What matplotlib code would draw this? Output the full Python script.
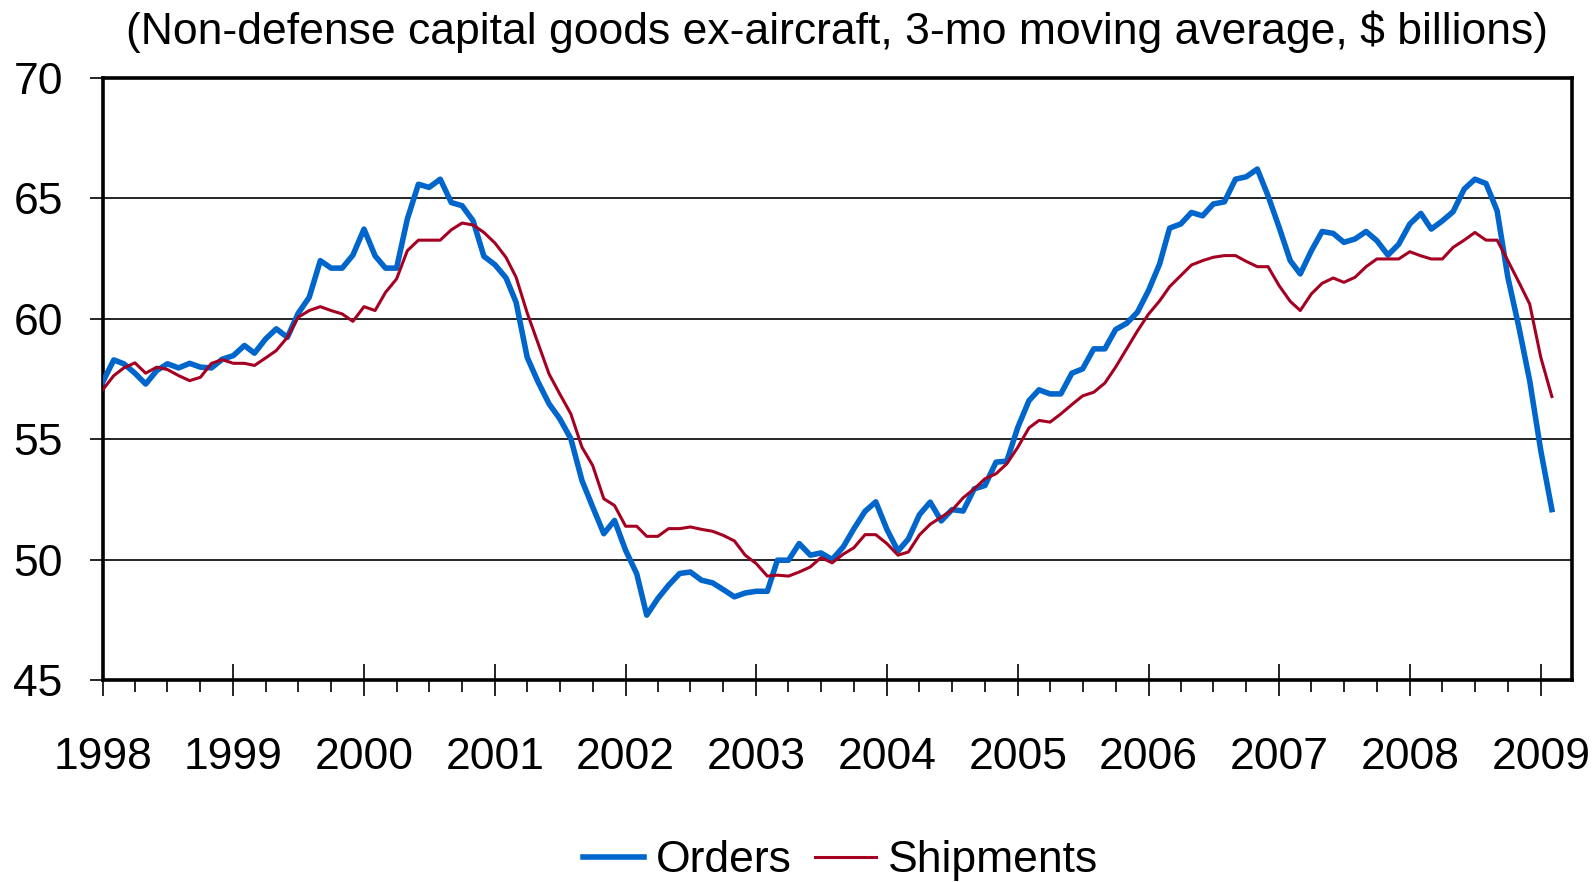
import numpy as np
import pandas as pd
import matplotlib
matplotlib.use("Agg")
import matplotlib.pyplot as plt
import matplotlib.dates as mdates

plt.rcParams['font.family'] = ['Liberation Sans', 'DejaVu Sans']

# Monthly values, Jan 1998 - Feb 2009 ($ billions, 3-mo moving average)
orders = [
    57.38, 58.30, 58.14, 57.75, 57.30, 57.86, 58.14, 57.97, 58.16, 58.00, 57.97, 58.33,
    58.48, 58.90, 58.58, 59.17, 59.59, 59.24, 60.23, 60.90, 62.42, 62.11, 62.11, 62.65,
    63.73, 62.62, 62.11, 62.11, 64.14, 65.59, 65.46, 65.80, 64.83, 64.70, 64.07, 62.60,
    62.25, 61.70, 60.69, 58.41, 57.40, 56.48, 55.86, 55.03, 53.30, 52.20, 51.09, 51.64,
    50.40, 49.43, 47.71, 48.40, 48.95, 49.44, 49.50, 49.16, 49.05, 48.77, 48.47, 48.63,
    48.70, 48.70, 49.99, 49.99, 50.68, 50.20, 50.29, 50.02, 50.54, 51.30, 52.02, 52.41,
    51.27, 50.37, 50.87, 51.88, 52.40, 51.62, 52.09, 52.03, 52.95, 53.09, 54.06, 54.10,
    55.51, 56.61, 57.06, 56.89, 56.89, 57.75, 57.93, 58.76, 58.76, 59.56, 59.82, 60.28,
    61.18, 62.28, 63.77, 63.94, 64.42, 64.28, 64.77, 64.86, 65.80, 65.90, 66.22, 65.11,
    63.80, 62.42, 61.87, 62.83, 63.63, 63.55, 63.18, 63.32, 63.63, 63.25, 62.65, 63.10,
    63.94, 64.38, 63.73, 64.07, 64.45, 65.39, 65.80, 65.62, 64.49, 61.73, 59.65, 57.44,
    54.54, 52.09,
]
shipments = [
    57.06, 57.65, 57.97, 58.18, 57.75, 58.00, 57.90, 57.65, 57.44, 57.58, 58.16, 58.31,
    58.16, 58.16, 58.07, 58.38, 58.69, 59.24, 60.07, 60.35, 60.51, 60.35, 60.21, 59.90,
    60.51, 60.35, 61.10, 61.66, 62.83, 63.27, 63.27, 63.27, 63.70, 63.98, 63.90, 63.59,
    63.15, 62.55, 61.73, 60.25, 59.00, 57.72, 56.89, 56.06, 54.68, 53.92, 52.54, 52.26,
    51.40, 51.40, 50.98, 50.98, 51.30, 51.30, 51.37, 51.27, 51.19, 51.02, 50.79, 50.20,
    49.85, 49.33, 49.37, 49.33, 49.50, 49.71, 50.10, 49.88, 50.24, 50.51, 51.05, 51.05,
    50.68, 50.20, 50.33, 51.04, 51.48, 51.78, 52.06, 52.58, 52.95, 53.37, 53.58, 53.99,
    54.68, 55.48, 55.79, 55.72, 56.06, 56.45, 56.81, 56.96, 57.34, 58.00, 58.76, 59.50,
    60.20, 60.75, 61.34, 61.80, 62.24, 62.42, 62.56, 62.63, 62.63, 62.39, 62.17, 62.17,
    61.38, 60.73, 60.35, 61.04, 61.48, 61.70, 61.52, 61.73, 62.17, 62.49, 62.49, 62.49,
    62.79, 62.62, 62.49, 62.49, 62.97, 63.27, 63.59, 63.27, 63.27, 62.42, 61.52, 60.62,
    58.41, 56.78,
]
dates = pd.date_range('1998-01-01', periods=len(orders), freq='MS')
yticks = [45, 50, 55, 60, 65, 70]

fig = plt.figure(figsize=(15.95, 8.82), dpi=100)
ax = fig.add_axes([0.0644, 0.2285, 0.9209, 0.6831])

ax.plot(dates, orders, color='#0066CC', lw=4.0, label='Orders', zorder=3)
ax.plot(dates, shipments, color='#A50021', lw=2.2, label='Shipments', zorder=4)

ax.set_ylim(45, 70)
ax.set_yticks(yticks)
ax.set_xlim(pd.Timestamp('1998-01-01'), pd.Timestamp('2009-03-28'))
ax.xaxis.set_major_locator(mdates.YearLocator())
ax.xaxis.set_major_formatter(mdates.DateFormatter('%Y'))
ax.xaxis.set_minor_locator(mdates.MonthLocator(bymonth=[4, 7, 10]))

ax.grid(axis='y', color='black', lw=1.2, zorder=1)
for s in ax.spines.values():
    s.set_linewidth(2.6)
    s.set_color('black')

ax.tick_params(axis='y', which='major', direction='out', length=9.7, width=1.2,
               pad=19, labelsize=32)
ax.tick_params(axis='x', which='major', direction='inout', length=23, width=1.2,
               pad=29.5, labelsize=32)
ax.tick_params(axis='x', which='minor', direction='out', length=8.6, width=1.2)

fig.text(0.525, 1 - 32 / 882,
         '(Non-defense capital goods ex-aircraft, 3-mo moving average, $ billions)',
         ha='center', va='center', fontsize=32)

fig.legend(loc='center', bbox_to_anchor=(0.527, 0.024), ncol=2, frameon=False,
           fontsize=32, handlelength=1.37, handletextpad=0.27, columnspacing=0.52)

fig.savefig('out.png', dpi=100)
